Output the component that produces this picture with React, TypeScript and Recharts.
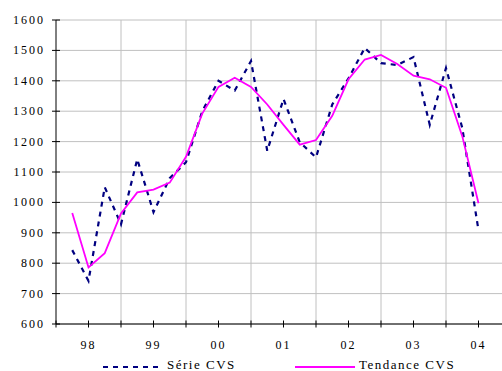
import { LineChart, Line, XAxis, YAxis, CartesianGrid, Legend } from 'recharts'

// quarterly points, x = quarter index
const SERIE_CVS = [
  843, 742, 1050, 928, 1142, 968, 1080, 1132, 1300, 1400, 1368, 1465, 1170,
  1340, 1198, 1148, 1322, 1408, 1508, 1458, 1452, 1478, 1255, 1442, 1245, 908,
]
const TENDANCE_CVS = [
  965, 786, 833, 964, 1033, 1042, 1065, 1150, 1292, 1380, 1410, 1380, 1322,
  1255, 1190, 1205, 1285, 1405, 1470, 1485, 1455, 1417, 1405, 1377, 1218, 997,
]

const YEAR_LABELS = ['98', '99', '00', '01', '02', '03', '04']
const YEAR_IDX = [1, 5, 9, 13, 17, 21, 25]
const X_TICKS = [-1, 1, 3, 5, 7, 9, 11, 13, 15, 17, 19, 21, 23, 25, 27]
const GRID_IDX = [3, 7, 11, 15, 19, 23, 27]
const Y_TICKS = [600, 700, 800, 900, 1000, 1100, 1200, 1300, 1400, 1500, 1600]
const X_DOMAIN = [-1, 27]

const NAVY = '#000080'
const MAGENTA = '#FF00FF'
const TEXT_STYLE = { fontFamily: "'Liberation Serif', 'DejaVu Serif', serif" }

const CHART_W = 511
const CHART_H = 371
const LEGEND_H = 20
const X_MARGIN = 25
const Y_MARGIN = 11

const data = SERIE_CVS.map((v, i) => ({ i, serie: v, tendance: TENDANCE_CVS[i] }))

function XTick({ x, y, payload }: any) {
  const k = YEAR_IDX.indexOf(payload.value)
  const axisY = y - X_MARGIN
  return (
    <g>
      <line x1={x} x2={x} y1={axisY - 3.5} y2={axisY + 3.5} stroke="#000" />
      {k >= 0 && (
        <text x={x} y={y} textAnchor="middle" style={TEXT_STYLE} fontSize={12} letterSpacing={2} fill="#000">
          {YEAR_LABELS[k]}
        </text>
      )}
    </g>
  )
}

function YTick({ x, y, payload }: any) {
  const axisX = x + Y_MARGIN
  return (
    <g>
      <line x1={axisX - 4} x2={axisX + 4} y1={y} y2={y} stroke="#000" />
      <text x={x} y={y} dy={4} textAnchor="end" style={TEXT_STYLE} fontSize={12} letterSpacing={2} fill="#000">
        {payload.value}
      </text>
    </g>
  )
}

// vertical grid between the year groups
function gridX({ xAxis, offset }: any) {
  const sc = xAxis?.scale
  const toPx = (v: number) => {
    if (typeof sc === 'function') return sc(v)
    if (sc && typeof sc.map === 'function') return sc.map(v)
    return offset.left + ((v - X_DOMAIN[0]) / (X_DOMAIN[1] - X_DOMAIN[0])) * offset.width
  }
  return GRID_IDX.map(toPx)
}

const LEGEND_X = [103, 295]

function LegendContent({ payload }: any) {
  return (
    <svg width={CHART_W} height={LEGEND_H} style={{ display: 'block' }}>
      {(payload || []).map((entry: any, k: number) => (
        <g key={entry.value}>
          <line
            x1={LEGEND_X[k]} x2={LEGEND_X[k] + 60} y1={16} y2={16}
            stroke={entry.color} strokeWidth={2}
            strokeDasharray={entry.payload?.strokeDasharray}
          />
          <text x={LEGEND_X[k] + 64} y={17.5} style={TEXT_STYLE} fontSize={13} letterSpacing={1.5} fill="#000">
            {entry.value}
          </text>
        </g>
      ))}
    </svg>
  )
}

export default function App() {
  return (
    <div style={{ position: 'absolute', left: 0, top: 0, width: 502, height: 371, overflow: 'hidden', background: '#fff' }}>
      <LineChart width={CHART_W} height={CHART_H} data={data} margin={{ top: 20, right: 0, left: 0, bottom: 3 }}>
        <CartesianGrid stroke="#c0c0c0" verticalCoordinatesGenerator={gridX} />
        <XAxis
          dataKey="i" type="number" domain={X_DOMAIN} ticks={X_TICKS} interval={0}
          height={24} tickSize={0} tickMargin={X_MARGIN} tickLine={false}
          axisLine={{ stroke: '#000' }} tick={<XTick />}
        />
        <YAxis
          type="number" domain={[600, 1600]} ticks={Y_TICKS} interval={0}
          width={56} tickSize={0} tickMargin={Y_MARGIN} tickLine={false}
          axisLine={{ stroke: '#000' }} tick={<YTick />}
        />
        <Legend verticalAlign="bottom" height={LEGEND_H} content={<LegendContent />}
          wrapperStyle={{ left: 0, bottom: 0, width: CHART_W }} />
        <Line dataKey="serie" name="Série CVS" stroke={NAVY} strokeWidth={2.2} strokeDasharray="5 5"
          dot={false} isAnimationActive={false} />
        <Line dataKey="tendance" name="Tendance CVS" stroke={MAGENTA} strokeWidth={1.8}
          dot={false} isAnimationActive={false} />
      </LineChart>
    </div>
  )
}
